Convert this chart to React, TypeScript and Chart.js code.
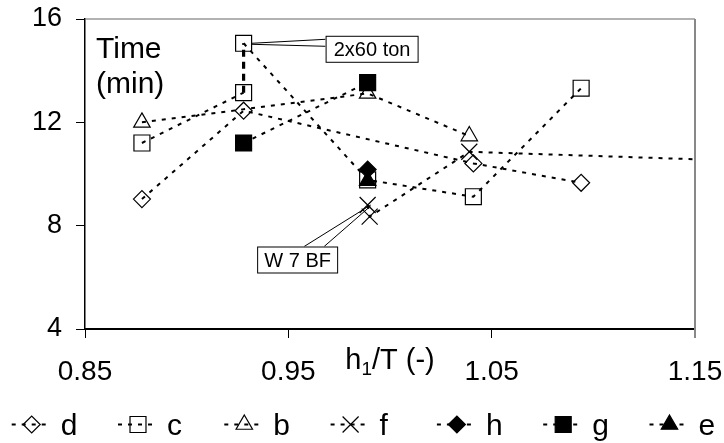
import React, { useEffect, useRef } from 'react';
import { Chart, registerables, PointElement } from 'chart.js';

Chart.register(...registerables);

const FONT = "'Liberation Sans', Arial, sans-serif";

// ---- data ----
const xTickValues = [0.85, 0.95, 1.05, 1.15];
const yTickValues = [4, 8, 12, 16];
const seriesNames = ['d', 'c', 'b', 'f', 'h', 'g', 'e'];

const dPoints = [
  { x: 0.878, y: 9.03 },
  { x: 0.928, y: 12.45 },
  { x: 1.041, y: 10.41 },
  { x: 1.094, y: 9.66 },
];
const cPoints = [
  { x: 0.878, y: 11.2 },
  { x: 0.928, y: 13.15 },
  { x: 0.928, y: 15.06 },
  { x: 0.989, y: 9.77 },
  { x: 1.041, y: 9.12 },
  { x: 1.094, y: 13.32 },
];
const bPoints = [
  { x: 0.878, y: 12.0 },
  { x: 0.989, y: 13.12 },
  { x: 1.039, y: 11.47 },
];
const fPoints = [
  { x: 0.989, y: 8.8 },
  { x: 0.99, y: 8.35 },
  { x: 1.039, y: 10.86 },
  { x: 1.2, y: 10.44 },
];
const hPoints = [{ x: 0.989, y: 10.17 }];
const gPoints = [
  { x: 0.928, y: 11.2 },
  { x: 0.989, y: 13.54 },
];
const ePoints = [{ x: 0.989, y: 9.74 }];

const yTitleLines = ['Time', '(min)'];
const xTitleParts = ['h', '1', '/T (-)'];
const calloutTexts = ['2x60 ton', 'W 7 BF'];
// which series / point each callout refers to
const calloutSeries = [1, 3];
const calloutIndex = [2, 0];

// ---- styles ----
const markerStyles = [
  { pointStyle: 'rectRot', radius: 8.5, filled: false },
  { pointStyle: 'rect', radius: 11.3, filled: false },
  { pointStyle: 'triangle', radius: 9.5, filled: false },
  { pointStyle: 'crossRot', radius: 11.3, filled: false },
  { pointStyle: 'rectRot', radius: 8.5, filled: true },
  { pointStyle: 'rect', radius: 11.3, filled: true },
  { pointStyle: 'triangle', radius: 9.5, filled: true },
];
const LINE_DASH = [4, 6];

export default function App() {
  const ref = useRef<HTMLCanvasElement>(null);

  useEffect(() => {
    const canvas = ref.current;
    if (!canvas) return;
    const seriesData = [dPoints, cPoints, bPoints, fPoints, hPoints, gPoints, ePoints];

    const datasets = seriesNames.map((name, i) => {
      const st = markerStyles[i];
      return {
        label: name,
        data: seriesData[i],
        showLine: true,
        borderColor: '#000',
        borderWidth: 2,
        borderDash: LINE_DASH,
        backgroundColor: 'rgba(0,0,0,0)',
        fill: false,
        tension: 0,
        pointStyle: st.pointStyle,
        pointRadius: st.radius,
        pointHoverRadius: st.radius,
        pointBorderColor: '#000',
        pointBorderWidth: 1.2,
        pointBackgroundColor: st.filled ? '#000' : 'rgba(0,0,0,0)',
        segment: {
          borderWidth: (c: any) => (Math.abs(c.p0.x - c.p1.x) < 0.5 ? 3.2 : undefined),
          borderDash: (c: any) => (Math.abs(c.p0.x - c.p1.x) < 0.5 ? [7, 5] : undefined),
        },
      };
    });

    const decor = {
      id: 'decor',
      beforeDatasetsDraw(chart: any) {
        const { ctx, chartArea: a } = chart;
        ctx.save();
        ctx.setLineDash([]);
        ctx.strokeStyle = '#666';
        ctx.lineWidth = 1.2;
        ctx.beginPath();
        ctx.moveTo(a.left, a.top);
        ctx.lineTo(a.right, a.top);
        ctx.stroke();
        ctx.strokeStyle = '#888';
        ctx.lineWidth = 2;
        ctx.beginPath();
        ctx.moveTo(a.right, a.top);
        ctx.lineTo(a.right, a.bottom + 9);
        ctx.stroke();
        ctx.restore();
      },
      afterDraw(chart: any) {
        const { ctx, chartArea: a, scales } = chart;
        const W = chart.width;
        const H = chart.height;
        ctx.save();
        ctx.setLineDash([]);
        ctx.fillStyle = '#000';
        ctx.textBaseline = 'alphabetic';
        ctx.textAlign = 'left';

        // y title inside plot
        ctx.font = `30px ${FONT}`;
        ctx.fillText(yTitleLines[0], a.left + 11, a.top + 39);
        ctx.fillText(yTitleLines[1], a.left + 11, a.top + 74);

        // x title with subscript
        const mainF = `29px ${FONT}`;
        const subF = `19px ${FONT}`;
        ctx.font = mainF;
        const w0 = ctx.measureText(xTitleParts[0]).width;
        const w2 = ctx.measureText(xTitleParts[2]).width;
        ctx.font = subF;
        const w1 = ctx.measureText(xTitleParts[1]).width;
        const total = w0 + w1 + w2;
        let tx = (a.left + a.right) / 2 - total / 2;
        const tb = a.bottom + 40;
        ctx.font = mainF;
        ctx.fillText(xTitleParts[0], tx, tb);
        tx += w0;
        ctx.font = subF;
        ctx.fillText(xTitleParts[1], tx, tb + 6);
        tx += w1;
        ctx.font = mainF;
        ctx.fillText(xTitleParts[2], tx, tb);

        // callouts
        const boxes = [
          { dx: 82, dy: -7.5, w: 92, h: 26 },
          { dx: -110.5, dy: 41.5, w: 80, h: 26 },
        ];
        calloutTexts.forEach((text, k) => {
          const p = seriesData[calloutSeries[k]][calloutIndex[k]];
          const px = scales.x.getPixelForValue(p.x);
          const py = scales.y.getPixelForValue(p.y);
          const b = boxes[k];
          const bl = px + b.dx;
          const bt = py + b.dy;
          ctx.strokeStyle = '#000';
          ctx.lineWidth = 1;
          ctx.beginPath();
          if (k === 0) {
            ctx.moveTo(px + 8, py);
            ctx.lineTo(bl, bt + 3.5);
            ctx.moveTo(px + 8, py + 1);
            ctx.lineTo(bl, bt + 10.5);
          } else {
            ctx.moveTo(px + 3, py);
            ctx.lineTo(bl + 47, bt);
            ctx.moveTo(px + 3, py + 1);
            ctx.lineTo(bl + 67, bt);
          }
          ctx.stroke();
          ctx.fillStyle = '#fff';
          ctx.fillRect(bl, bt, b.w, b.h);
          ctx.strokeRect(bl + 0.5, bt + 0.5, b.w, b.h);
          ctx.fillStyle = '#000';
          ctx.font = `20px ${FONT}`;
          ctx.textAlign = 'center';
          ctx.fillText(text, bl + b.w / 2 + 0.5, bt + b.h / 2 + 7.5);
          ctx.textAlign = 'left';
        });

        // legend
        const ly = 424.5;
        chart.data.datasets.forEach((ds: any, i: number) => {
          const cx = 31.7 + i * 106.3;
          ctx.strokeStyle = '#000';
          ctx.lineWidth = 2;
          ctx.setLineDash(LINE_DASH);
          ctx.beginPath();
          ctx.moveTo(cx - 20, ly);
          ctx.lineTo(cx + 20, ly);
          ctx.stroke();
          ctx.setLineDash([]);
          const pe: any = new (PointElement as any)({
            x: cx,
            y: ly,
            options: {
              pointStyle: ds.pointStyle,
              radius: ds.pointRadius,
              rotation: 0,
              borderWidth: 1.2,
              borderColor: '#000',
              backgroundColor: ds.pointBackgroundColor,
            },
          });
          pe.draw(ctx, { left: 0, top: 0, right: W, bottom: H });
          ctx.fillStyle = '#000';
          ctx.font = `30px ${FONT}`;
          ctx.fillText(ds.label, cx + 29, ly + 10.5);
        });
        ctx.restore();
      },
    };

    const chart = new Chart(canvas, {
      type: 'scatter',
      data: { datasets: datasets as any },
      options: {
        animation: false,
        responsive: false,
        events: [],
        layout: { padding: { top: 19, right: 29, bottom: 0, left: 0 } },
        plugins: {
          legend: { display: false },
          tooltip: { enabled: false },
        },
        scales: {
          x: {
            type: 'linear',
            min: 0.85,
            max: 1.15,
            afterFit: (s: any) => {
              s.height = 114;
              s.paddingLeft = 0;
              s.paddingRight = 0;
            },
            afterBuildTicks: (s: any) => {
              s.ticks = xTickValues.map((v) => ({ value: v }));
            },
            ticks: {
              color: '#000',
              font: { family: FONT, size: 28 },
              padding: 17,
              maxRotation: 0,
              autoSkip: false,
              callback: (v: any) => Number(v).toFixed(2),
            },
            grid: {
              display: true,
              drawOnChartArea: false,
              drawTicks: true,
              tickLength: 9,
              color: '#000',
              lineWidth: 1,
            },
            border: { display: true, color: '#000', width: 2 },
          },
          y: {
            type: 'linear',
            min: 4,
            max: 16,
            afterFit: (s: any) => {
              s.width = 85;
              s.paddingTop = 0;
              s.paddingBottom = 0;
            },
            afterBuildTicks: (s: any) => {
              s.ticks = yTickValues.map((v) => ({ value: v }));
            },
            ticks: {
              color: '#000',
              font: { family: FONT, size: 27 },
              padding: 14,
              autoSkip: false,
            },
            grid: {
              display: true,
              drawOnChartArea: false,
              drawTicks: true,
              tickLength: 9,
              color: '#000',
              lineWidth: 1,
            },
            border: { display: true, color: '#000', width: 1.5 },
          },
        },
      },
      plugins: [decor],
    } as any);

    return () => chart.destroy();
  }, []);

  return (
    <div style={{ position: 'absolute', left: 0, top: 0, width: 724, height: 443, background: '#fff' }}>
      <canvas ref={ref} width={724} height={443} />
    </div>
  );
}
